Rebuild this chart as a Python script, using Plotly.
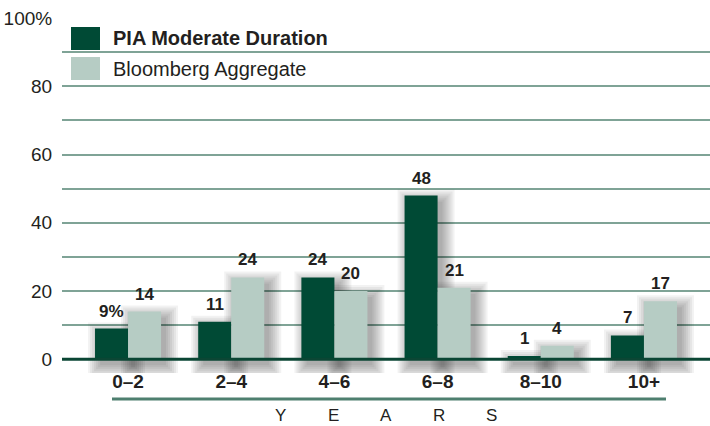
import plotly.graph_objects as go

categories = ["0–2", "2–4", "4–6", "6–8", "8–10", "10+"]
pia_values = [9, 11, 24, 48, 1, 7]
bloomberg_values = [14, 24, 20, 21, 4, 17]
series_names = ["PIA Moderate Duration", "Bloomberg Aggregate"]
y_tick_values = [0, 10, 20, 30, 40, 50, 60, 70, 80, 90, 100]
y_tick_labels = ["0", "", "20", "", "40", "", "60", "", "80", "", "100%"]
axis_title_letters = ["Y", "E", "A", "R", "S"]

DARK = "#004a35"
LIGHT = "#b6ccc4"
GRID = "#7fa396"
TEXT = "#231f20"
FONT = "Liberation Sans, Arial, sans-serif"

W, H = 710, 426
ML, MR, MT, MB = 62, 0, 18, 53
X_RANGE = [-0.64, 5.64]
Y_RANGE = [-4, 100]
px_x = (W - ML - MR) / (X_RANGE[1] - X_RANGE[0])
px_y = (H - MT - MB) / (Y_RANGE[1] - Y_RANGE[0])

BAR_W = 0.32
offsets = [-BAR_W, 0.0]

fig = go.Figure()

# soft drop shadows (layered translucent bars)
dx, dy = 5, 6
for vals, off in zip([pia_values, bloomberg_values], offsets):
    for s in [0, 2, 4, 6, 8, 10, 12]:
        sx = s / px_x
        sy = s / px_y
        fig.add_trace(go.Bar(
            x=categories,
            y=[v + 2 * sy for v in vals],
            base=-(dy / px_y) - sy,
            width=BAR_W + 2 * sx,
            offset=off + dx / px_x - sx,
            marker=dict(color="rgba(0,0,0,0.05)", line=dict(width=0)),
            hoverinfo="skip",
            showlegend=False,
        ))

for name, vals, off, col in zip(series_names, [pia_values, bloomberg_values],
                                offsets, [DARK, LIGHT]):
    fig.add_trace(go.Bar(
        name=name,
        x=categories,
        y=vals,
        width=BAR_W,
        offset=off,
        marker=dict(color=col, line=dict(width=0)),
        hoverinfo="x+y+name",
        showlegend=False,
    ))

shapes = []
annotations = []

# value labels above bars
for si, (vals, off) in enumerate(zip([pia_values, bloomberg_values], offsets)):
    for i, (cat, v) in enumerate(zip(categories, vals)):
        label = f"{v}%" if (si == 0 and i == 0) else str(v)
        annotations.append(dict(
            x=cat, y=v, xref="x", yref="y",
            xshift=(off + BAR_W / 2) * px_x, yshift=6,
            xanchor="center", yanchor="bottom", showarrow=False,
            text=f"<b>{label}</b>",
            font=dict(family=FONT, size=17, color=TEXT)))

# zero line on top
shapes.append(dict(type="line", xref="paper", yref="y", x0=0, x1=1, y0=0, y1=0,
                   line=dict(color="#0b4634", width=3), layer="above"))

# custom legend
pw = W - ML - MR
ph = H - MT - MB
leg_x0 = (71 - ML) / pw
leg_x1 = (100 - ML) / pw
leg_tx = (111 - ML) / pw
for i, (name, col) in enumerate(zip(series_names, [DARK, LIGHT])):
    top = 27 + i * 30
    y0 = (H - MB - (top + 23)) / ph
    y1 = (H - MB - top) / ph
    shapes.append(dict(type="rect", xref="paper", yref="paper", x0=leg_x0, x1=leg_x1,
                       y0=y0, y1=y1, fillcolor=col, line=dict(width=0)))
    annotations.append(dict(xref="paper", yref="paper", x=leg_tx, y=(y0 + y1) / 2,
                            xanchor="left", yanchor="middle", showarrow=False,
                            text=f"<b>{name}</b>" if i == 0 else name,
                            font=dict(family=FONT, size=20, color=TEXT)))

# line under category labels
ly = (H - MB - 399) / ph
shapes.append(dict(type="line", xref="paper", yref="paper",
                   x0=(112 - ML) / pw, x1=(666 - ML) / pw,
                   y0=ly, y1=ly, line=dict(color="#4e7f6f", width=3)))

# spaced axis title letters
ty = (H - MB - 415) / ph
for k, letter in enumerate(axis_title_letters):
    cx = 386 + (k - 2) * 53
    annotations.append(dict(xref="paper", yref="paper", x=(cx - ML) / pw, y=ty,
                            xanchor="center", yanchor="middle", showarrow=False,
                            text=letter, font=dict(family=FONT, size=17, color=TEXT)))

fig.update_layout(
    width=W, height=H,
    margin=dict(l=ML, r=MR, t=MT, b=MB, autoexpand=False),
    paper_bgcolor="white", plot_bgcolor="white",
    barmode="overlay",
    showlegend=False,
    shapes=shapes,
    annotations=annotations,
    xaxis=dict(type="category", range=X_RANGE, showgrid=False, zeroline=False,
               showline=False, ticks="", ticklabelstandoff=-5,
               automargin=False,
               tickfont=dict(family=FONT, size=19, color=TEXT, weight="bold")),
    yaxis=dict(range=Y_RANGE, tickvals=y_tick_values, ticktext=y_tick_labels,
               showgrid=True, gridcolor=GRID, gridwidth=1.5, zeroline=False,
               showline=False, ticks="outside", ticklen=5, tickcolor="rgba(0,0,0,0)",
               automargin=False,
               tickfont=dict(family=FONT, size=19, color=TEXT)),
)

fig.write_html(
    "out.html",
    config={"displayModeBar": False},
    post_script="document.body.style.margin='0';document.body.style.overflow='hidden';",
)
